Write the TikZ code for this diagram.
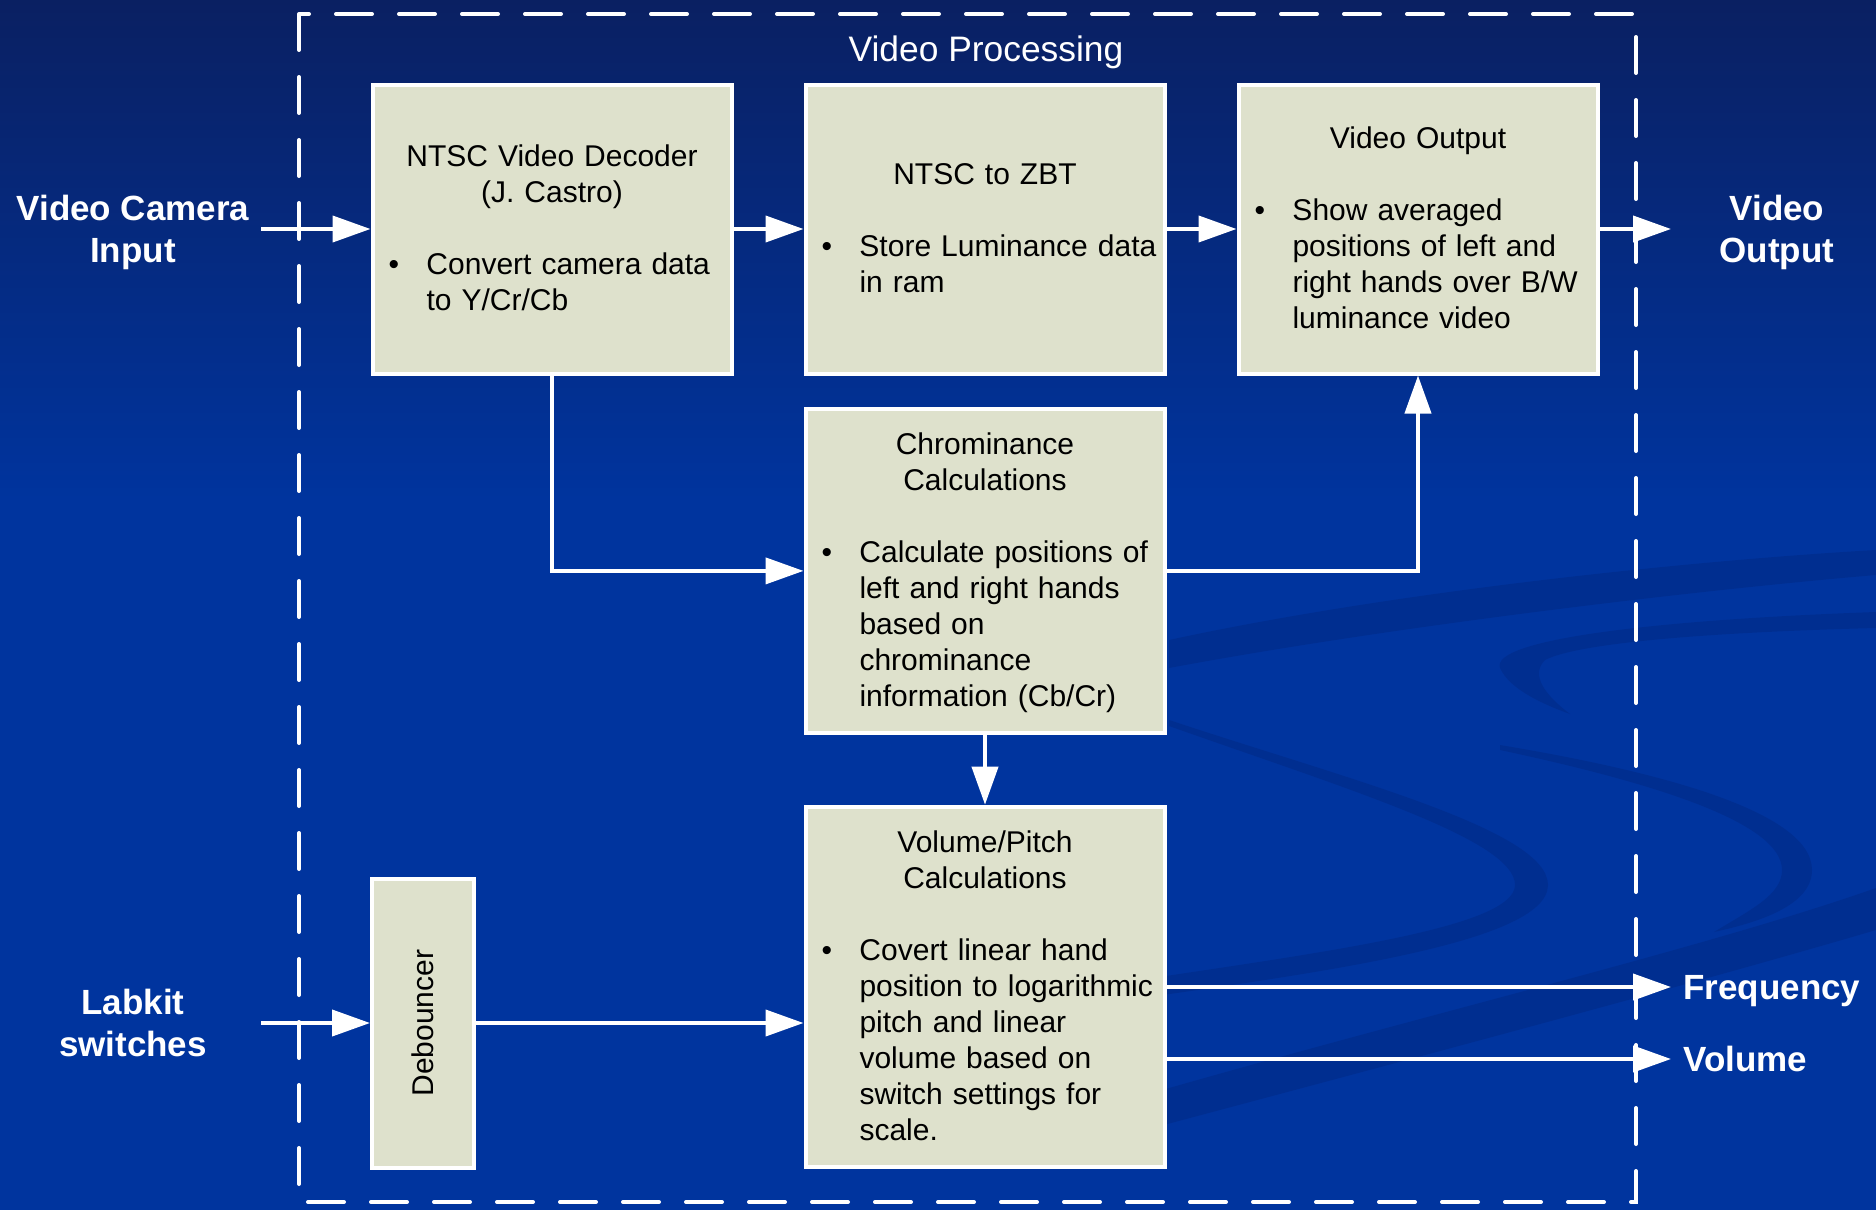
\documentclass[tikz,border=0pt]{standalone}
\usepackage{fontspec}
\setmainfont{Liberation Sans}
\usepackage{graphicx}
\usetikzlibrary{arrows.meta,positioning}

\definecolor{bgtop}{RGB}{10,32,98}
\definecolor{bgbot}{RGB}{0,52,158}
\definecolor{swirl}{RGB}{0,38,125}
\definecolor{boxfill}{RGB}{222,225,204}

\newcommand{\bul}[1]{\noindent\hspace*{2pt}\makebox[19pt][l]{\textbullet}\begin{tabular}[t]{@{}l@{}}#1\end{tabular}}
\newcommand{\boxend}{\par\vspace{-4pt}}

\begin{document}
\begin{tikzpicture}[
        x=0.5pt, y=-0.5pt,
        box/.style={rectangle, draw=white, line width=2pt, fill=boxfill, text=black, font=\fontsize{15pt}{18pt}\selectfont},
        textbox/.style={box, text width=167.5pt, inner xsep=6pt, inner ysep=4pt, execute at end node=\boxend},
        iolabel/.style={text=white, font=\bfseries\fontsize{17.5pt}{21pt}\selectfont, align=center},
        arrow/.style={white, line width=2pt, -{Triangle[length=19pt,width=13pt]}},
        frame/.style={white, line width=2pt, line cap=round, dash pattern=on 18pt off 13.5pt}
    ]
    \useasboundingbox (0,0) rectangle (1876,1210);
    % Background
    \fill[bgbot] (0,0) rectangle (1876,1210);
    \shade[top color=bgtop, bottom color=bgbot] (0,0) rectangle (1876,500);
    \begin{scope}[fill=swirl, fill opacity=0.4]
    \fill (1169,640) .. controls (1400,590) and (1700,560) .. (1876,550) -- (1876,575) .. controls (1700,590) and (1400,625) .. (1169,668) -- cycle;
    \fill (1876,612) .. controls (1650,620) and (1490,640) .. (1500,668) .. controls (1510,690) and (1545,705) .. (1570,714) .. controls (1545,695) and (1530,675) .. (1545,660) .. controls (1580,642) and (1720,632) .. (1876,628) -- cycle;
    \fill (1169,720) .. controls (1350,780) and (1548,830) .. (1548,885) .. controls (1548,945) and (1300,975) .. (1100,1004) -- (1100,986) .. controls (1300,955) and (1515,930) .. (1515,885) .. controls (1515,840) and (1350,790) .. (1169,726) -- cycle;
    \fill (1500,745) .. controls (1650,770) and (1812,810) .. (1812,870) .. controls (1812,905) and (1760,922) .. (1714,932) .. controls (1750,910) and (1782,895) .. (1782,870) .. controls (1782,822) and (1650,782) .. (1500,750) -- cycle;
    \fill (1100,1108) .. controls (1400,1020) and (1700,950) .. (1876,888) -- (1876,930) .. controls (1700,982) and (1400,1062) .. (1100,1142) -- cycle;
    \end{scope}
    % Frame
    \draw[frame] (299,14) rectangle (1636,1202);
    \node[text=white, font=\fontsize{17.7pt}{21pt}\selectfont] (vproc) at (986,52) {Video Processing};
    % Top row
    \node[textbox, minimum height=144.5pt] (dec) at (552,229) {{\centering NTSC Video Decoder\\(J. Castro)\par}\vspace{18pt}\bul{Convert camera data\\to Y/Cr/Cb}};
    \node[textbox, minimum height=144.5pt, right=35pt of dec] (zbt) {{\centering NTSC to ZBT\par}\vspace{18pt}\bul{Store Luminance data\\in ram}};
    \node[textbox, minimum height=144.5pt, right=35pt of zbt] (vout) {{\centering Video Output\par}\vspace{18pt}\bul{Show averaged\\positions of left and\\right hands over B/W\\luminance video}};
    % Middle and bottom
    \node[textbox, minimum height=162pt, below=15.7pt of zbt] (chrom) {{\centering Chrominance\\Calculations\par}\vspace{18pt}\bul{Calculate positions of\\left and right hands\\based on\\chrominance\\information (Cb/Cr)}};
    \node[textbox, minimum height=180pt, below=34.9pt of chrom] (vol) {{\centering Volume/Pitch\\Calculations\par}\vspace{18pt}\bul{Covert linear hand\\position to logarithmic\\pitch and linear\\volume based on\\switch settings for\\scale.}};
    \node[box, minimum width=51pt, minimum height=144.5pt, inner sep=0pt] (deb) at (423,1023) {\rotatebox{90}{Debouncer}};
    % Inputs and outputs
    \node[iolabel] (camin) at (133,232) {Video Camera\\Input};
    \node[iolabel] (vidout) at (1777,232) {Video\\Output};
    \node[iolabel] (labkit) at (133,1023) {Labkit\\switches};
    \node[iolabel, anchor=base west, inner xsep=0pt] (freq) at (1683,999) {Frequency};
    \node[iolabel, anchor=base west, inner xsep=0pt] (volout) at (1683,1071) {Volume};
    \coordinate (camtail) at (261,229);
    \coordinate (labtail) at (261,1023);
    \coordinate (vouttip) at (1671,229);
    \coordinate (freqtip) at (1671,987);
    \coordinate (voltip) at (1671,1059);
    % Arrows
    \draw[arrow] (camtail) -- (dec);
    \draw[arrow] (dec) -- (zbt);
    \draw[arrow] (zbt) -- (vout);
    \draw[arrow] (vout) -- (vouttip);
    \draw[arrow] (dec.south) |- (chrom.west);
    \draw[arrow] (chrom.east) -| (vout.south);
    \draw[arrow] (chrom) -- (vol);
    \draw[arrow] (labtail) -- (deb);
    \draw[arrow] (deb) -- (deb -| vol.west);
    \draw[arrow] (vol.east |- freqtip) -- (freqtip);
    \draw[arrow] (vol.east |- voltip) -- (voltip);
\end{tikzpicture}
\end{document}
